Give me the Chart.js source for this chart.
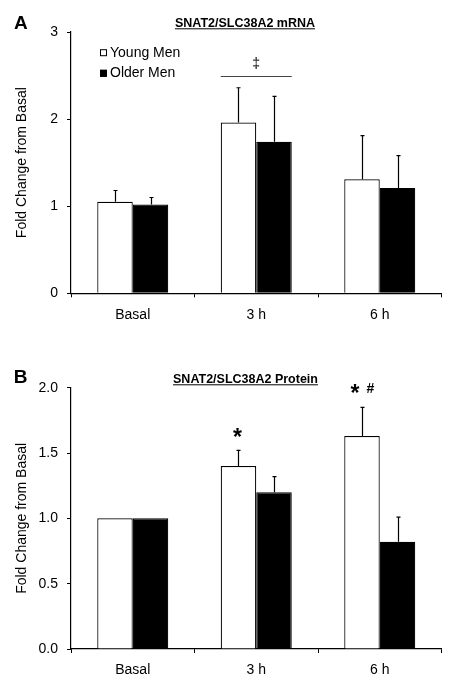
<!DOCTYPE html>
<html><head><meta charset="utf-8">
<script src="https://cdn.jsdelivr.net/npm/chart.js@4/dist/chart.umd.min.js"></script>
<style>
html,body{margin:0;padding:0;background:#fff;width:456px;height:692px;overflow:hidden}
canvas{position:absolute;left:0}
#a{top:0}#b{top:340px}
</style></head><body>
<canvas id="a" width="456" height="340"></canvas>
<canvas id="b" width="456" height="352"></canvas>
<script>
const categories = ['Basal', '3 h', '6 h'];
const seriesNames = ['Young Men', 'Older Men'];
const mrnaYoung = [1.05, 1.96, 1.31];
const mrnaYoungErr = [0.13, 0.40, 0.50];
const mrnaOlder = [1.02, 1.74, 1.21];
const mrnaOlderErr = [0.08, 0.52, 0.37];
const proteinYoung = [1.00, 1.40, 1.63];
const proteinYoungErr = [0.00, 0.12, 0.22];
const proteinOlder = [1.00, 1.20, 0.82];
const proteinOlderErr = [0.00, 0.12, 0.19];
const mrnaTicks = [0, 1, 2, 3];
const proteinTicks = [0, 0.5, 1.0, 1.5, 2.0];

const FONT = "'Liberation Sans', Arial, Helvetica, sans-serif";
Chart.defaults.font.family = FONT;
Chart.defaults.color = '#000';

const decor = {
  id: 'decor',
  afterDatasetsDraw(chart, args, o) {
    const ctx = chart.ctx, ys = chart.scales.y;
    ctx.save();
    // error bars (upper only)
    o.errors.forEach((errs, di) => {
      const meta = chart.getDatasetMeta(di);
      meta.data.forEach((bar, j) => {
        const e = errs[j];
        if (!e) return;
        const v = chart.data.datasets[di].data[j];
        const yt = ys.getPixelForValue(v + e);
        const bx = Math.round(bar.x) + 0.5;
        ctx.strokeStyle = '#000';
        ctx.lineWidth = 1.2;
        ctx.beginPath();
        ctx.moveTo(bx, bar.y);
        ctx.lineTo(bx, yt);
        ctx.moveTo(bx - 2, yt);
        ctx.lineTo(bx + 2, yt);
        ctx.stroke();
      });
    });
    // annotations
    (o.notes || []).forEach(n => {
      const bar = chart.getDatasetMeta(n.ds).data[n.cat];
      const px = bar.x + (n.dx || 0);
      const py = ys.getPixelForValue(n.value);
      ctx.fillStyle = '#000';
      ctx.font = n.font;
      ctx.textAlign = 'center';
      ctx.textBaseline = 'middle';
      ctx.fillText(n.text, px, py);
    });
    (o.lines || []).forEach(l => {
      const b0 = chart.getDatasetMeta(0).data[l.cat];
      const b1 = chart.getDatasetMeta(1).data[l.cat];
      const x0 = b0.x - b0.width / 2, x1 = b1.x + b1.width / 2;
      const py = Math.round(ys.getPixelForValue(l.value)) + 0.5;
      ctx.strokeStyle = '#444';
      ctx.lineWidth = 1;
      ctx.beginPath();
      ctx.moveTo(x0, py); ctx.lineTo(x1, py);
      ctx.stroke();
    });
    ctx.restore();
  },
  afterDraw(chart, args, o) {
    const ctx = chart.ctx;
    ctx.save();
    ctx.fillStyle = '#000';
    // panel letter
    ctx.font = 'bold 19px ' + FONT;
    ctx.textAlign = 'center';
    ctx.textBaseline = 'middle';
    ctx.fillText(o.letter, o.letterX, o.letterY);
    // title underlined
    ctx.font = 'bold 12.5px ' + FONT;
    ctx.textBaseline = 'alphabetic';
    ctx.fillText(o.title, o.titleX, o.titleY);
    const w = ctx.measureText(o.title).width;
    ctx.strokeStyle = '#000';
    ctx.lineWidth = 1;
    ctx.beginPath();
    ctx.moveTo(o.titleX - w / 2, o.titleY + 1.5);
    ctx.lineTo(o.titleX + w / 2, o.titleY + 1.5);
    ctx.stroke();
    // legend
    if (o.legend) {
      ctx.font = '14px ' + FONT;
      ctx.textAlign = 'left';
      ctx.textBaseline = 'middle';
      chart.data.datasets.forEach((ds, i) => {
        const cy = o.legend.y + i * o.legend.gap;
        ctx.fillStyle = ds.backgroundColor;
        ctx.fillRect(o.legend.x, cy - 3.5, 7, 7);
        ctx.strokeStyle = '#000';
        ctx.strokeRect(o.legend.x + 0.5, cy - 3, 6, 6);
        ctx.fillStyle = '#000';
        ctx.fillText(ds.label, o.legend.x + 10, cy);
      });
    }
    ctx.restore();
  }
};

function makeChart(id, young, older, yErr, oErr, ticks, axisHeight, padTop, decimals, pluginOpts) {
  return new Chart(document.getElementById(id), {
    type: 'bar',
    data: {
      labels: categories,
      datasets: [
        { label: seriesNames[0], data: young, backgroundColor: '#ffffff', borderColor: '#000', borderWidth: 1.2, borderSkipped: 'bottom' },
        { label: seriesNames[1], data: older, backgroundColor: '#000000', borderColor: '#000', borderWidth: 1.2, borderSkipped: 'bottom' }
      ]
    },
    options: {
      responsive: false,
      animation: false,
      devicePixelRatio: 1,
      layout: { padding: { top: padTop, right: 14.5, left: 0, bottom: 0 } },
      datasets: { bar: { categoryPercentage: 0.575, barPercentage: 1 } },
      plugins: {
        legend: { display: false },
        tooltip: { enabled: false },
        decor: Object.assign({ errors: [yErr, oErr] }, pluginOpts)
      },
      scales: {
        x: {
          grid: { display: true, drawOnChartArea: false, drawTicks: true, tickLength: 4, color: '#000', lineWidth: 1, offset: true },
          border: { display: true, color: '#000', width: 1.2 },
          ticks: { font: { size: 14 }, color: '#000', padding: 9 },
          afterFit: s => { s.height = axisHeight; }
        },
        y: {
          min: ticks[0], max: ticks[ticks.length - 1],
          afterBuildTicks: s => { s.ticks = ticks.map(v => ({ value: v })); },
          grid: { display: true, drawOnChartArea: false, drawTicks: true, tickLength: 4, color: '#000', lineWidth: 1 },
          border: { display: true, color: '#000', width: 1.2 },
          ticks: { font: { size: 14 }, color: '#000', padding: 9, callback: v => Number(v).toFixed(decimals) },
          title: { display: true, text: 'Fold Change from Basal', font: { size: 14 }, color: '#000', padding: { top: 14, bottom: 0 } },
          afterFit: s => { s.width = 71; }
        }
      }
    },
    plugins: [decor]
  });
}

makeChart('a', mrnaYoung, mrnaOlder, mrnaYoungErr, mrnaOlderErr, mrnaTicks, 340 - 293.3, 32, 0, {
  letter: 'A', letterX: 20.8, letterY: 23.5,
  title: 'SNAT2/SLC38A2 mRNA', titleX: 245, titleY: 27.3,
  legend: { x: 100, y: 52.7, gap: 20.6 },
  notes: [ { ds: 0, cat: 1, dx: 17.75, value: 2.63, text: '\u2021', font: '14px ' + FONT } ],
  lines: [ { cat: 1, value: 2.49 } ]
});

makeChart('b', proteinYoung, proteinOlder, proteinYoungErr, proteinOlderErr, proteinTicks, 352 - 309, 47.7, 1, {
  letter: 'B', letterX: 20.5, letterY: 38,
  title: 'SNAT2/SLC38A2 Protein', titleX: 245.5, titleY: 43.3,
  notes: [
    { ds: 0, cat: 1, dx: -1, value: 1.61, text: '*', font: 'bold 23px ' + FONT },
    { ds: 0, cat: 2, dx: -7, value: 1.95, text: '*', font: 'bold 23px ' + FONT },
    { ds: 0, cat: 2, dx: 8.5, value: 1.99, text: '#', font: 'bold 14px ' + FONT }
  ]
});
</script>
</body></html>
